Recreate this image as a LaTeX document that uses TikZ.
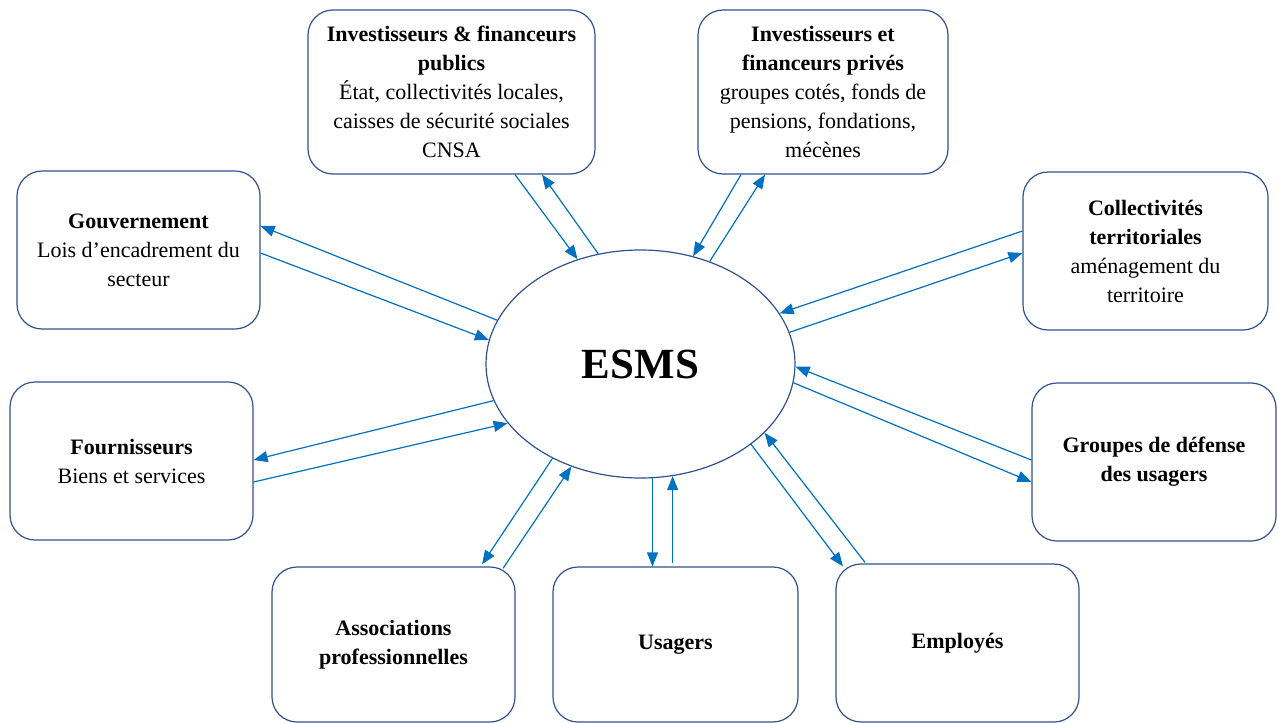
\documentclass[tikz,border=0pt]{standalone}
\usepackage{fontspec}
\setmainfont{Liberation Serif}
\usetikzlibrary{shapes.geometric,arrows.meta}
\definecolor{boxblue}{HTML}{2F528F}
\definecolor{arrowblue}{HTML}{0070C0}
\begin{document}
\begin{tikzpicture}[x=1pt,y=-1pt,
  box/.style={draw=boxblue, line width=1.2pt, rounded corners=25pt, align=center,
    inner sep=0pt, font=\fontsize{22}{29}\selectfont},
  arr/.style={draw=arrowblue, line width=1.2pt, -{Triangle[length=14pt,width=11pt]}}]
\useasboundingbox (0,0) rectangle (1278,723);

\node[ellipse, draw=boxblue, line width=1.2pt, minimum width=309pt, minimum height=228pt,
  inner sep=0pt, font=\bfseries\fontsize{43}{50}\selectfont] (esms) at (640.5,364) {ESMS};

\node[box, minimum width=287pt, minimum height=164pt] (pub) at (451.5,92)
  {\textbf{Investisseurs \& financeurs}\\\textbf{publics}\\État, collectivités locales,\\caisses de sécurité sociales\\CNSA};
\node[box, minimum width=250pt, minimum height=164pt] (priv) at (823,92)
  {\textbf{Investisseurs et}\\\textbf{financeurs privés}\\groupes cotés, fonds de\\pensions, fondations,\\mécènes};
\node[box, minimum width=243pt, minimum height=158pt] (gouv) at (138.5,250)
  {\textbf{Gouvernement}\\Lois d’encadrement du\\secteur};
\node[box, minimum width=245pt, minimum height=158pt] (coll) at (1145.5,251)
  {\textbf{Collectivités}\\\textbf{territoriales}\\aménagement du\\territoire};
\node[box, minimum width=243pt, minimum height=158pt] (four) at (131.5,461)
  {\textbf{Fournisseurs}\\Biens et services};
\node[box, minimum width=244pt, minimum height=158pt] (grp) at (1154,462)
  {\textbf{Groupes de défense}\\\textbf{des usagers}};
\node[box, minimum width=243pt, minimum height=155pt] (assoc) at (393.5,644.5)
  {\textbf{Associations}\\\textbf{professionnelles}};
\node[box, minimum width=245pt, minimum height=155pt] (usag) at (675.5,644.5)
  {\textbf{Usagers}};
\node[box, minimum width=243pt, minimum height=158pt] (empl) at (957.5,643)
  {\textbf{Employés}};

% Gouvernement
\draw[arr] (esms.163) -- ([yshift=24pt]gouv.east);
\draw[arr] ([yshift=-3pt]gouv.east) -- (esms.171);
% Investisseurs publics
\draw[arr] ([xshift=63.5pt]pub.south) -- (esms.121);
\draw[arr] (esms.111) -- ([xshift=90.5pt]pub.south);
% Investisseurs privés
\draw[arr] ([xshift=-82pt]priv.south) -- (esms.64);
\draw[arr] (esms.56) -- ([xshift=-58pt]priv.south);
% Collectivités
\draw[arr] ([yshift=20pt]coll.west) -- (esms.20);
\draw[arr] (esms.12.6) -- ([yshift=-2pt]coll.west);
% Groupes de défense
\draw[arr] ([yshift=2pt]grp.west) -- (esms.-1.5);
\draw[arr] (esms.-7.4) -- ([yshift=-20pt]grp.west);
% Employés
\draw[arr] (esms.-36.4) -- ([xshift=-114.5pt,yshift=-3pt]empl.north);
\draw[arr] ([xshift=-92.5pt,yshift=1pt]empl.north) -- (esms.-29.6);
% Usagers
\draw[arr] (esms.-84) -- (esms.-84 |- usag.north);
\draw[arr] ([yshift=3pt]esms.-74.3 |- usag.north) -- (esms.-74.3);
% Associations
\draw[arr] (esms.-133.2) -- ([xshift=88.5pt,yshift=2pt]assoc.north);
\draw[arr] ([xshift=109.5pt,yshift=-2pt]assoc.north) -- (esms.-124.7);
% Fournisseurs
\draw[arr] (esms.194.9) -- ([yshift=1pt]four.east);
\draw[arr] ([yshift=-21pt]four.east) -- (esms.204.3);
\end{tikzpicture}
\end{document}
